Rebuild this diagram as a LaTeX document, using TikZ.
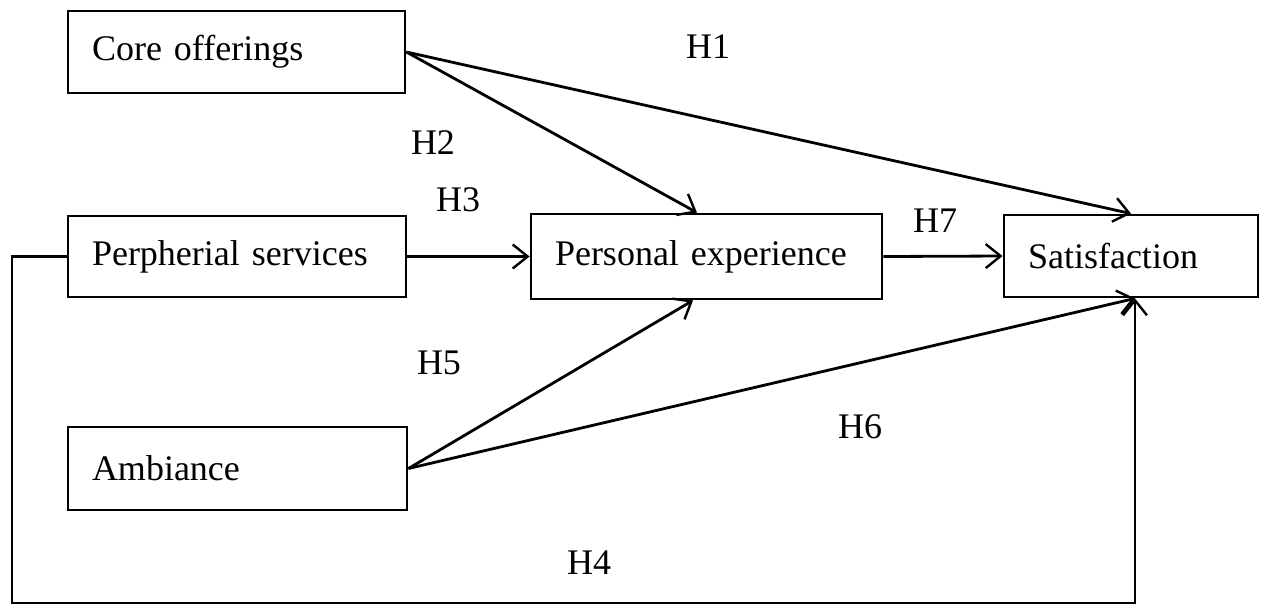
\documentclass[tikz,border=0pt]{standalone}
\usepackage{fontspec}
\setmainfont{Liberation Serif}
\usetikzlibrary{arrows.meta}
\begin{document}
\begin{tikzpicture}[x=0.5pt,y=-0.5pt,
  every node/.style={font=\fontsize{18}{21}\selectfont},
  boxnode/.style={draw,line width=1.4pt,inner xsep=12pt,inner ysep=0pt,align=left,anchor=center},
  hlabel/.style={inner sep=0pt,anchor=center},
  conn/.style={line width=1.4pt,-{Straight Barb[length=7.5pt,width=12pt,line width=1.2pt]}},
  plain/.style={line width=1.4pt}]
\useasboundingbox (0,0) rectangle (1262,607);
\node[boxnode,text width=144.5pt,minimum height=41pt] (core) at (236.5,52) {Core offerings};
\node[boxnode,text width=145pt,minimum height=40.5pt] (peri) at (237,256.5) {Perpherial services};
\node[boxnode,text width=145.5pt,minimum height=41.5pt] (amb) at (237.5,468.5) {Ambiance};
\node[boxnode,text width=151.5pt,minimum height=42.5pt] (pers) at (706.5,256.5) {Personal experience};
\node[boxnode,text width=103pt,minimum height=41pt] (sat) at (1131,256) {Satisfaction};
\coordinate (c1) at (12,256.5);
\coordinate (c2) at (12,603);
\coordinate (c3) at (1135,603);
\draw[conn] (core.east) -- ([xshift=-4.75pt]pers.north);
\draw[conn] (core.east) -- (sat.north);
\draw[conn] (peri.east) -- (pers.west);
\draw[conn] (pers.east) -- (sat.west);
\draw[conn] (amb.east) -- ([xshift=-6.75pt]pers.south);
\draw[conn] (amb.east) -- ([xshift=2pt]sat.south);
\draw[conn] (peri.west) -- (c1) -- (c2) -- (c3) -- ([xshift=2pt]sat.south);
\node[hlabel] (h1) at (708,47) {H1};
\node[hlabel] (h2) at (433,143) {H2};
\node[hlabel] (h3) at (458,200) {H3};
\node[hlabel] (h7) at (935,221) {H7};
\node[hlabel] (h5) at (439,363) {H5};
\node[hlabel] (h6) at (860,427) {H6};
\node[hlabel] (h4) at (589,563) {H4};
\end{tikzpicture}
\end{document}
